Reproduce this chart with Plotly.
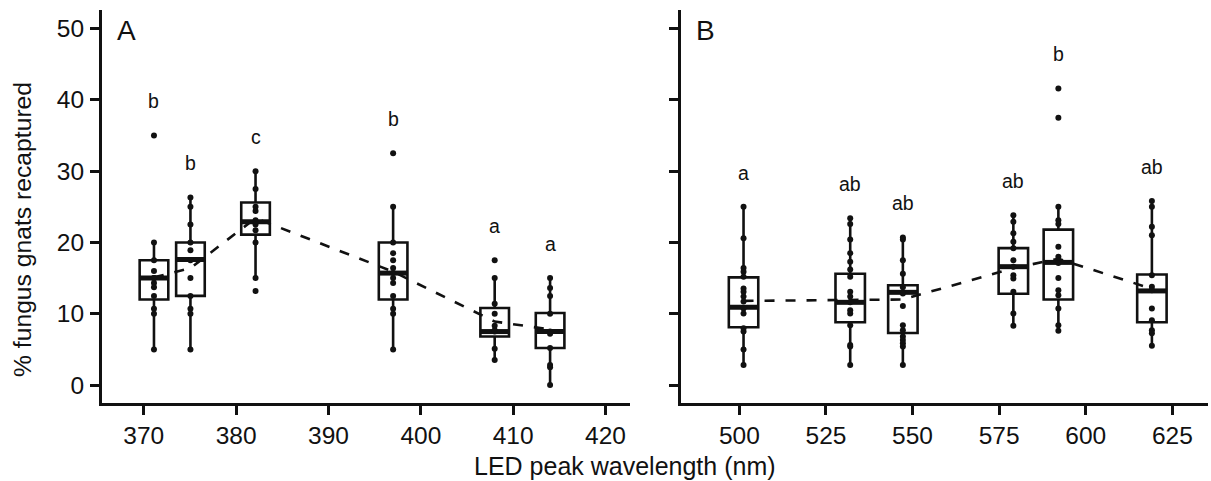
import plotly.graph_objects as go

# ---------------- data ----------------
# Panel A (UV / violet LEDs)
wl_a = [371.1, 375.05, 382.1, 397.0, 408.0, 414.0]
q1_a = [12.0, 12.5, 21.1, 12.0, 6.8, 5.2]
med_a = [15.0, 17.6, 22.9, 15.7, 7.5, 7.5]
q3_a = [17.5, 20.0, 25.6, 20.0, 10.8, 10.1]
lo_a = [5.0, 5.0, 15.0, 5.0, 3.5, 0.0]
hi_a = [20.0, 26.3, 30.0, 25.0, 15.0, 15.0]
mean_a = [15.1, 16.4, 23.4, 15.9, 8.9, 7.8]
letters_a = ["b", "b", "c", "b", "a", "a"]
points_a = [
    [35, 20, 17.5, 16, 15, 15, 14.3, 13.7, 12.5, 10.7, 10, 5],
    [26.3, 25, 22.5, 20, 18.9, 17.5, 15, 12.5, 10.7, 10, 5],
    [30, 27.5, 25, 24.4, 23.1, 22.5, 21.7, 20, 15, 13.2],
    [32.5, 25, 20, 18.5, 17.5, 16.4, 15.7, 15, 14.3, 12.5, 10.7, 10, 5],
    [17.5, 15, 11.4, 10, 8.3, 7.7, 7.5, 5.1, 3.5],
    [15, 13.6, 12.5, 10, 7.5, 7.2, 5.2, 2.8, 2.5, 0],
]

# Panel B (visible LEDs)
wl_b = [501.2, 532.0, 547.2, 579.1, 592.1, 619.1]
q1_b = [8.1, 8.8, 7.3, 12.8, 12.0, 8.8]
med_b = [10.9, 11.6, 13.0, 16.6, 17.2, 13.2]
q3_b = [15.1, 15.6, 14.0, 19.2, 21.8, 15.5]
lo_b = [2.8, 2.8, 2.8, 8.3, 7.6, 5.5]
hi_b = [25.0, 23.4, 20.7, 23.8, 25.0, 25.8]
mean_b = [11.8, 12.0, 12.0, 16.4, 17.7, 13.5]
letters_b = ["a", "ab", "ab", "ab", "b", "ab"]
points_b = [
    [25, 20.6, 16.4, 15.9, 15.2, 13.55, 13.1, 12.4, 11.7, 10.75, 10.05, 7.95, 7.5, 5.0, 2.8],
    [23.4, 22.6, 20.4, 18.5, 17.3, 16.2, 15.2, 13.1, 12.4, 11.6, 10.5, 10.05, 8.4, 5.6, 5.4, 2.8],
    [20.7, 20.4, 17.5, 15.6, 13.7, 12.85, 11.1, 8.4, 7.7, 6.8, 6.3, 5.85, 5.4, 2.8],
    [23.8, 22.9, 21.3, 20.1, 19.2, 17.5, 16.6, 15.4, 14.95, 13.1, 10.05, 8.3],
    [41.6, 37.5, 25, 23.1, 22.6, 19.4, 18.0, 17.1, 15.0, 13.3, 12.6, 10.75, 8.4, 7.6],
    [25.8, 25, 22.2, 21.0, 15.4, 13.8, 13.3, 10.75, 9.1, 7.7, 7.25, 5.5],
]

x_ticks_a = [370, 380, 390, 400, 410, 420]
x_ticks_b = [500, 525, 550, 575, 600, 625]
y_ticks = [0, 10, 20, 30, 40, 50]

# ---------------- style ----------------
FONT = "Liberation Sans, Arial, Helvetica, sans-serif"
INK = "#111111"
LW = 2.6
W, H = 1211, 481

fig = go.Figure()


def add_panel(xa, ya, wl, q1, med, q3, lo, hi, means, letters, points, bw):
    # boxes
    for i in range(len(wl)):
        fig.add_trace(go.Box(
            x=[wl[i]], q1=[q1[i]], median=[med[i]], q3=[q3[i]],
            lowerfence=[lo[i]], upperfence=[hi[i]],
            width=bw, whiskerwidth=0, boxpoints=False,
            fillcolor="white", line=dict(color=INK, width=LW),
            xaxis=xa, yaxis=ya, showlegend=False, hoverinfo="skip",
        ))
    # dashed mean line
    fig.add_trace(go.Scatter(
        x=wl, y=means, mode="lines",
        line=dict(color=INK, width=LW, dash="10px,11px"),
        xaxis=xa, yaxis=ya, showlegend=False, hoverinfo="skip",
    ))
    # thick median bars
    for i in range(len(wl)):
        fig.add_trace(go.Scatter(
            x=[wl[i] - bw / 2, wl[i] + bw / 2], y=[med[i], med[i]], mode="lines",
            line=dict(color=INK, width=5),
            xaxis=xa, yaxis=ya, showlegend=False, hoverinfo="skip",
        ))
    # individual observations
    for i in range(len(wl)):
        fig.add_trace(go.Scatter(
            x=[wl[i]] * len(points[i]), y=points[i], mode="markers",
            marker=dict(color=INK, size=6),
            xaxis=xa, yaxis=ya, showlegend=False, hoverinfo="skip",
        ))
    # significance letters
    for i in range(len(wl)):
        fig.add_annotation(
            x=wl[i], y=max(points[i]) + 4.8, text=letters[i],
            xref=xa, yref=ya, showarrow=False,
            font=dict(family=FONT, size=19.5, color=INK),
            xanchor="center", yanchor="middle",
        )


add_panel("x", "y", wl_a, q1_a, med_a, q3_a, lo_a, hi_a, mean_a, letters_a, points_a, 3.1)
add_panel("x2", "y2", wl_b, q1_b, med_b, q3_b, lo_b, hi_b, mean_b, letters_b, points_b, 8.5)

ydom = [1 - 403 / H, 1 - 10 / H]
axis_common = dict(
    showline=True, linewidth=LW, linecolor=INK, ticks="outside", ticklen=9,
    tickwidth=LW, tickcolor=INK, showgrid=False, zeroline=False,
    tickfont=dict(family=FONT, size=24.5, color=INK),
)

fig.update_layout(
    width=W, height=H, margin=dict(l=0, r=0, t=0, b=0),
    paper_bgcolor="white", plot_bgcolor="white",
    boxmode="overlay", showlegend=False,
    xaxis=dict(domain=[101.8 / W, 629.5 / W], range=[365.45, 422.6],
               tickvals=x_ticks_a, anchor="y", ticklabelstandoff=0, **axis_common),
    yaxis=dict(domain=ydom, range=[-2.52, 52.6], tickvals=y_ticks, anchor="x",
               ticklabelstandoff=1, **axis_common),
    xaxis2=dict(domain=[680.5 / W, 1208 / W], range=[483.0, 635.3],
                tickvals=x_ticks_b, anchor="y2", ticklabelstandoff=0, **axis_common),
    yaxis2=dict(domain=ydom, range=[-2.52, 52.6], tickvals=y_ticks, anchor="x2",
                showticklabels=False, **axis_common),
)

# panel tags and axis titles
fig.add_annotation(x=126 / W, y=1 - 30 / H, xref="paper", yref="paper", text="A",
                   showarrow=False, font=dict(family=FONT, size=28, color=INK),
                   xanchor="center", yanchor="middle")
fig.add_annotation(x=705 / W, y=1 - 30 / H, xref="paper", yref="paper", text="B",
                   showarrow=False, font=dict(family=FONT, size=28, color=INK),
                   xanchor="center", yanchor="middle")
fig.add_annotation(x=625 / W, y=1 - 466 / H, xref="paper", yref="paper",
                   text="LED peak wavelength (nm)", showarrow=False,
                   font=dict(family=FONT, size=25, color=INK),
                   xanchor="center", yanchor="middle")
fig.add_annotation(x=22 / W, y=1 - 230 / H, xref="paper", yref="paper",
                   text="% fungus gnats recaptured", textangle=-90, showarrow=False,
                   font=dict(family=FONT, size=24.7, color=INK),
                   xanchor="center", yanchor="middle")

fig.write_html("out.html")
